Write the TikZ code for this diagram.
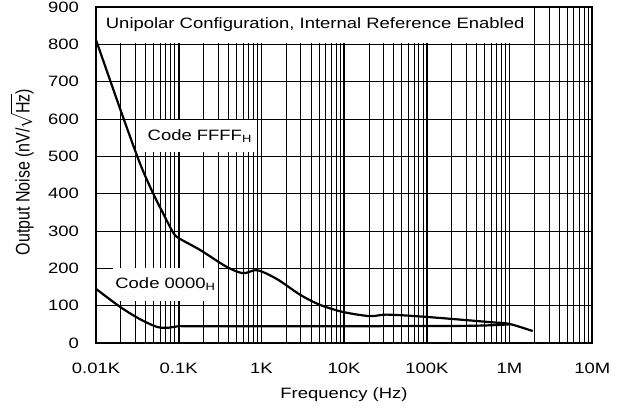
\documentclass[tikz,border=0pt]{standalone}
\usepackage{amsmath}
\usepackage{fontspec}
\setmainfont{Liberation Sans}[FakeStretch=1.23]
\newfontfamily\plainfont{Liberation Sans}
\tikzset{labelbox/.style={fill=white, inner sep=0pt}}

\begin{document}
\begin{tikzpicture}[x=1pt, y=1pt, font=\fontsize{15}{17}\selectfont]
\useasboundingbox (0,0) rectangle (619,410);
\begin{scope}[shift={(96,67)}, x=82.7pt, y=0.3733pt]
\foreach \d in {0,...,5}{
\foreach \k in {2,...,9}{\draw[line width=0.9pt] ({\d+log10(\k)},0) -- ({\d+log10(\k)},900);}
}
\foreach \d in {1,...,5}{\draw[line width=1.6pt] (\d,0) -- (\d,900);}
\foreach \v in {100,200,...,800}{\draw[line width=0.9pt] (0,\v) -- (6,\v);}
\node[labelbox, minimum width=437pt, minimum height=36pt] (title) at (2.65,852) {Unipolar Configuration, Internal Reference Enabled};
\node[labelbox, minimum width=110pt, minimum height=32pt] (ffff) at (1.255,554) {Code FFFF\textsubscript{H}};
\node[labelbox, minimum width=105pt, minimum height=33pt] (zero) at (0.84,157) {Code 0000\textsubscript{H}};
\draw[line width=2.2pt, smooth] plot coordinates {(0,812) (0.3,622) (0.53,482) (0.69,401) (0.81,348) (0.93,297) (1.0,281) (1.26,249) (1.58,204) (1.78,187) (1.95,195) (2.19,171) (2.47,129) (2.71,102) (2.99,83) (3.31,72) (3.52,76) (3.99,70) (4.76,56) (5.0,51) (5.28,32)};
\draw[line width=2.2pt, smooth] plot coordinates {(0,145) (0.29,97) (0.53,64) (0.74,43) (0.88,41) (1.0,45) (1.2,45) (3,45) (4.5,46) (5.0,50)};
\draw[line width=2.2pt] (0,0) rectangle (6,900);
\foreach \v in {0,100,...,900}{\node[anchor=east, inner sep=0pt] (yl\v) at ([xshift=-17pt]0,\v) {\v};}
\foreach \lbl [count=\i from 0] in {0.01K,0.1K,1K,10K,100K,1M,10M}{\node (xl\i) at ([yshift=-25pt]\i,0) {\lbl};}
\end{scope}
\node[rotate=90, inner sep=0pt, font=\plainfont\fontsize{16}{18}\selectfont] (ylabel) at (22,238) {\scalebox{1}[1.23]{Output Noise (nV/$\sqrt{\text{Hz}}$)}};
\node (xlabel) at (344,15) {Frequency (Hz)};
\end{tikzpicture}
\end{document}
